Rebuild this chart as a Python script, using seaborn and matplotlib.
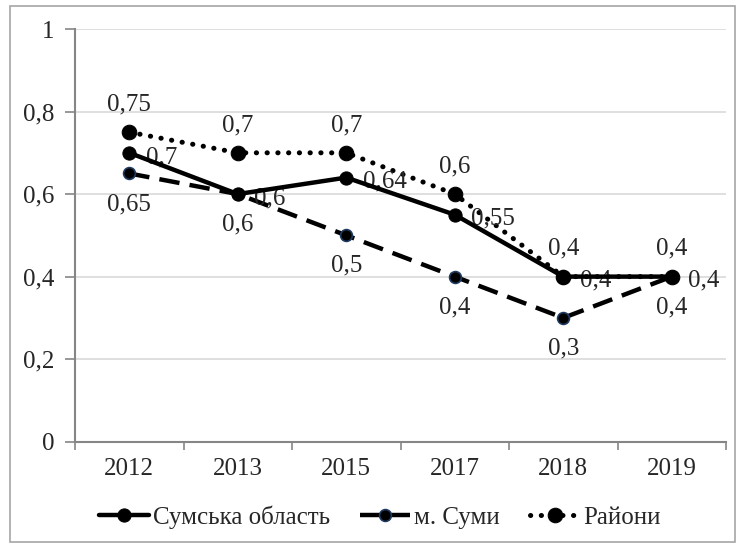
import matplotlib
matplotlib.use("Agg")
import matplotlib.pyplot as plt
import seaborn as sns
import pandas as pd
from matplotlib.patches import Rectangle

# data
years = ["2012", "2013", "2015", "2017", "2018", "2019"]
oblast = [0.7, 0.6, 0.64, 0.55, 0.4, 0.4]
sumy = [0.65, 0.6, 0.5, 0.4, 0.3, 0.4]
raiony = [0.75, 0.7, 0.7, 0.6, 0.4, 0.4]
series_names = ["Сумська область", "м. Суми", "Райони"]
yticks = [0, 0.2, 0.4, 0.6, 0.8, 1]
ytick_labels = ["0", "0,2", "0,4", "0,6", "0,8", "1"]

FONT = ["Liberation Serif", "DejaVu Serif"]
sns.set_theme(style="white", font="Liberation Serif")
plt.rcParams["font.family"] = FONT
plt.rcParams["font.size"] = 18

df = pd.DataFrame({"pos": range(len(years)), "year": years,
                   "oblast": oblast, "sumy": sumy, "raiony": raiony})

fig = plt.figure(figsize=(7.36, 5.44), dpi=100)
ax = fig.add_axes([75 / 736, 1 - 441.7 / 544, 651 / 736, 412.7 / 544])

grey = "#868686"
ax.grid(axis="y", color="#d9d9d9", linewidth=1.2)
ax.set_axisbelow(True)

# lines
sns.lineplot(data=df, x="pos", y="raiony", ax=ax, color="black", linewidth=3.6,
             linestyle=(0, (0.05, 2.1)), dash_capstyle="round", marker="o",
             markersize=10.5, markerfacecolor="black", markeredgecolor="black",
             label=series_names[2], zorder=3)
sns.lineplot(data=df, x="pos", y="sumy", ax=ax, color="black", linewidth=3.2,
             linestyle=(0, (4.6, 2.3)), marker="o", markersize=8.5,
             markerfacecolor="black", markeredgecolor="#1f3a5f",
             markeredgewidth=1.2, label=series_names[1], zorder=3)
sns.lineplot(data=df, x="pos", y="oblast", ax=ax, color="black", linewidth=3.2,
             marker="o", markersize=9.5, markerfacecolor="black",
             markeredgecolor="black", label=series_names[0], zorder=4)

def fmt(v):
    return f"{v:g}".replace(".", ",")

for i in range(len(years)):
    ax.annotate(fmt(oblast[i]), (i, oblast[i]), xytext=(12, -3),
                textcoords="offset points", ha="left", va="center",
                fontsize=18, family=FONT)
    ax.annotate(fmt(sumy[i]), (i, sumy[i]), xytext=(0, -22),
                textcoords="offset points", ha="center", va="center",
                fontsize=18, family=FONT)
    ax.annotate(fmt(raiony[i]), (i, raiony[i]), xytext=(0, 20),
                textcoords="offset points", ha="center", va="center",
                fontsize=18, family=FONT)

ax.set_xlim(-0.5, len(years) - 0.5)
ax.set_ylim(0, 1)
ax.set_xticks(range(len(years)))
ax.set_xticklabels(years, family=FONT)
ax.set_xticks([i - 0.5 for i in range(len(years) + 1)], minor=True)
ax.set_yticks(yticks)
ax.set_yticklabels(ytick_labels, family=FONT)
ax.tick_params(axis="x", which="major", length=0, pad=12, labelsize=18)
ax.tick_params(axis="x", which="minor", length=6, width=1.2, color=grey,
               direction="out", bottom=True)
ax.tick_params(axis="y", length=7, width=1.2, color=grey, direction="out",
               pad=8, labelsize=18, left=True)
ax.set_xlabel("")
ax.set_ylabel("")
sns.despine(ax=ax)
for s in ["left", "bottom"]:
    ax.spines[s].set_color(grey)
    ax.spines[s].set_linewidth(1.5)

handles, labels = ax.get_legend_handles_labels()
order = [labels.index(n) for n in series_names]
ax.legend([handles[k] for k in order], [labels[k] for k in order],
          loc="center", bbox_to_anchor=(380 / 736, 1 - 517 / 544),
          bbox_transform=fig.transFigure, ncol=3, frameon=False,
          prop={"family": FONT, "size": 18}, handlelength=2.0,
          handletextpad=0.15, columnspacing=1.2, borderaxespad=0)

fig.patches.append(Rectangle((10 / 736, 2 / 544), 725 / 736, 536 / 544,
                             transform=fig.transFigure, fill=False,
                             edgecolor="#a6a6a6", linewidth=1.2))

fig.savefig("out.png", dpi=100)
